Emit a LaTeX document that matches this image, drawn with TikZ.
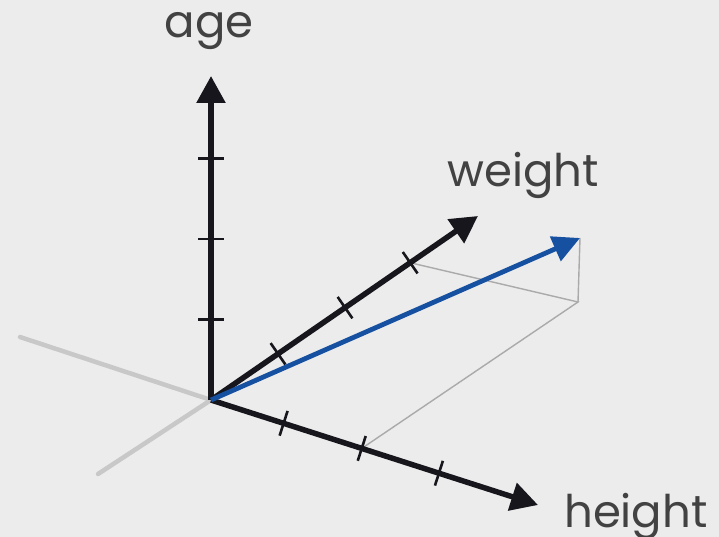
\documentclass[tikz,border=0pt]{standalone}
\usepackage{fontspec}
\setmainfont{Poppins}
\usetikzlibrary{arrows.meta,calc}
\definecolor{bg}{RGB}{236,236,236}
\definecolor{axisblack}{RGB}{22,22,28}
\definecolor{vecblue}{RGB}{22,80,160}
\definecolor{txtgray}{RGB}{66,66,66}
\definecolor{neggray}{RGB}{200,200,200}
\definecolor{thingray}{RGB}{170,170,170}
\begin{document}
\begin{tikzpicture}[x=1pt,y=-1pt,
  axisline/.style={line width=5.5pt,draw=axisblack,-{Triangle[length=27pt,width=28pt]}},
  vecline/.style={line width=4.8pt,draw=vecblue,-{Triangle[length=27pt,width=26pt]}},
  tickmark/.style={line width=2.6pt,draw=axisblack},
  negaxis/.style={line width=4.5pt,draw=neggray,line cap=round},
  guide/.style={line width=1.4pt,draw=thingray},
  lbl/.style={font=\fontsize{45}{50}\selectfont,text=txtgray,inner sep=0pt}]
\fill[bg] (0,0) rectangle (719,537);
\useasboundingbox (0,0) rectangle (719,537);
\coordinate (o) at (211,400);
\coordinate (agetip) at (211,76);
\coordinate (wtip) at (478,216);
\coordinate (htip) at (538,505);
\coordinate (vtip) at (580,238);
\coordinate (corner) at (578,302);
\coordinate (n1) at (20,337);
\coordinate (n2) at (98,474);
% negative axes
\draw[negaxis] (o) -- (n1);
\draw[negaxis] (o) -- (n2);
% tick positions
\path (o) -- (agetip) coordinate[pos=0.248] (a1) coordinate[pos=0.497] (a2) coordinate[pos=0.745] (a3);
\path (o) -- (wtip) coordinate[pos=0.251] (w1) coordinate[pos=0.502] (w2) coordinate[pos=0.746] (w3);
\path (o) -- (htip) coordinate[pos=0.222] (h1) coordinate[pos=0.461] (h2) coordinate[pos=0.697] (h3);
% guide lines
\draw[guide] (w3) -- (corner) -- (h2);
\draw[guide] (corner) -- (vtip);
% axes
\draw[axisline] (o) -- (agetip);
\draw[axisline] (o) -- (wtip);
\draw[axisline] (o) -- (htip);
\foreach \p/\q in {a1/agetip,a2/agetip,a3/agetip,w1/wtip,w2/wtip,w3/wtip,h1/htip,h2/htip,h3/htip}{
  \draw[tickmark] ($(\p)!13pt!90:(\q)$) -- ($(\p)!13pt!-90:(\q)$);
}
% vector
\draw[vecline] (o) -- (vtip);
% labels
\node[lbl,anchor=base] (agelbl) at (209,38) {age};
\node[lbl,anchor=base west] (wlbl) at (447,187) {weight};
\node[lbl,anchor=base west] (hlbl) at (564,527) {height};
\end{tikzpicture}
\end{document}
